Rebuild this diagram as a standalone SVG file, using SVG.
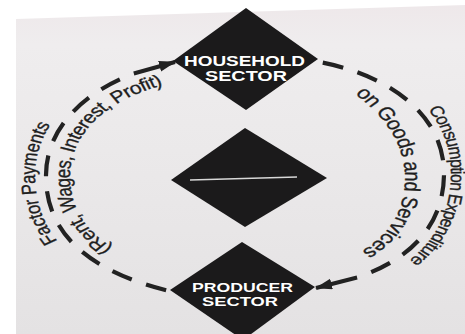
<svg xmlns="http://www.w3.org/2000/svg" xmlns:xlink="http://www.w3.org/1999/xlink" width="465" height="334" viewBox="0 0 465 334">
  <style>
    .dia { fill: #1b1a1b; }
    .lbl { font-family: "Liberation Sans", Arial, sans-serif; font-weight: bold; fill: #ffffff; }
    .flow { fill: none; stroke: #222; stroke-width: 4.2; stroke-dasharray: 21 15; }
    .arr { fill: none; stroke: #222; stroke-width: 4; }
    .ct { font-family: "Liberation Sans", Arial, sans-serif; fill: #1e1e1e; stroke: #1e1e1e; stroke-width: 0.3; }
  </style>
  <defs>
    <marker id="ah" markerUnits="userSpaceOnUse" markerWidth="18" markerHeight="12" refX="16" refY="5.5" orient="auto">
      <path d="M0,0 L17,5.5 L0,11 z" fill="#222"/>
    </marker>
    <linearGradient id="paper" x1="0" y1="0" x2="0" y2="1">
      <stop offset="0" stop-color="#eee8ea"/>
      <stop offset="0.12" stop-color="#efedee"/>
      <stop offset="1" stop-color="#e4e2e3"/>
    </linearGradient>
    <!-- text baselines, in horizontally unstretched space (x / 1.25) -->
    <path id="tLO" d="M137.9,301.3 C74.9,282.9 27.4,245.1 28.2,174.9 C28.2,115.5 74.9,66.9 141.4,52.9"/>
    <path id="tLI" d="M139.4,271.1 C91.5,257.2 55.4,228.5 56.1,175.2 C56.1,130.1 91.5,93.2 142,82.5"/>
    <path id="tRO" d="M245.8,50.8 C308.8,61.6 361.5,104.8 360.8,175 C360,245.2 317.4,283 252.6,297"/>
    <path id="tRI" d="M281.6,92 C308,115 324,145 324,178 C324,210 312,235 288,252"/>
  </defs>

  <rect x="0" y="0" width="465" height="334" fill="#ffffff"/>
  <polygon points="16,19 465,5 465,334 16,334" fill="url(#paper)"/>

  <g id="connectors">
    <path class="flow" stroke-dashoffset="21" d="M133.8,73.5 C80.6,93.4 46,131 46,175 C45,240 100,275 173,292"/>
    <line class="arr" x1="133.8" y1="73.5" x2="175" y2="62" marker-end="url(#ah)"/>
    <path class="flow" stroke-dashoffset="21" d="M357.1,277.5 C409.1,259.8 443.2,227 444,175 C445,110 380,70 307,60"/>
    <line class="arr" x1="357.1" y1="277.5" x2="316" y2="288" marker-end="url(#ah)"/>
    <g transform="scale(1.25,1)">
      <text class="ct" font-size="16.5"><textPath xlink:href="#tLO" href="#tLO" startOffset="112" textLength="122" lengthAdjust="spacing">Factor Payments</textPath></text>
      <text class="ct" font-size="17"><textPath xlink:href="#tLI" href="#tLI" startOffset="55" textLength="208" lengthAdjust="spacing">(Rent, Wages, Interest, Profit)</textPath></text>
      <text class="ct" font-size="15.5"><textPath xlink:href="#tRO" href="#tRO" startOffset="116" textLength="164" lengthAdjust="spacing">Consumption Expenditure</textPath></text>
      <text class="ct" font-size="18"><textPath xlink:href="#tRI" href="#tRI" startOffset="3" textLength="180" lengthAdjust="spacing">on Goods and Services</textPath></text>
    </g>
  </g>

  <g id="household">
    <polygon class="dia" points="246,8 318,59 246,110 173,61"/>
    <text class="lbl" x="184" y="66" font-size="15" textLength="121" lengthAdjust="spacingAndGlyphs">HOUSEHOLD</text>
    <text class="lbl" x="205" y="80.5" font-size="15" textLength="82" lengthAdjust="spacingAndGlyphs">SECTOR</text>
  </g>

  <g id="middle">
    <polygon class="dia" points="245,128 327,178 245,227 171,180"/>
    <line x1="190" y1="180" x2="297" y2="177" stroke="#d8d8d8" stroke-width="1.5"/>
  </g>

  <g id="producer">
    <polygon class="dia" points="242,242 315,287 243,340 170,290"/>
    <text class="lbl" x="192" y="292" font-size="12.5" textLength="101" lengthAdjust="spacingAndGlyphs">PRODUCER</text>
    <text class="lbl" x="202" y="305.5" font-size="12.5" textLength="76" lengthAdjust="spacingAndGlyphs">SECTOR</text>
  </g>
</svg>
